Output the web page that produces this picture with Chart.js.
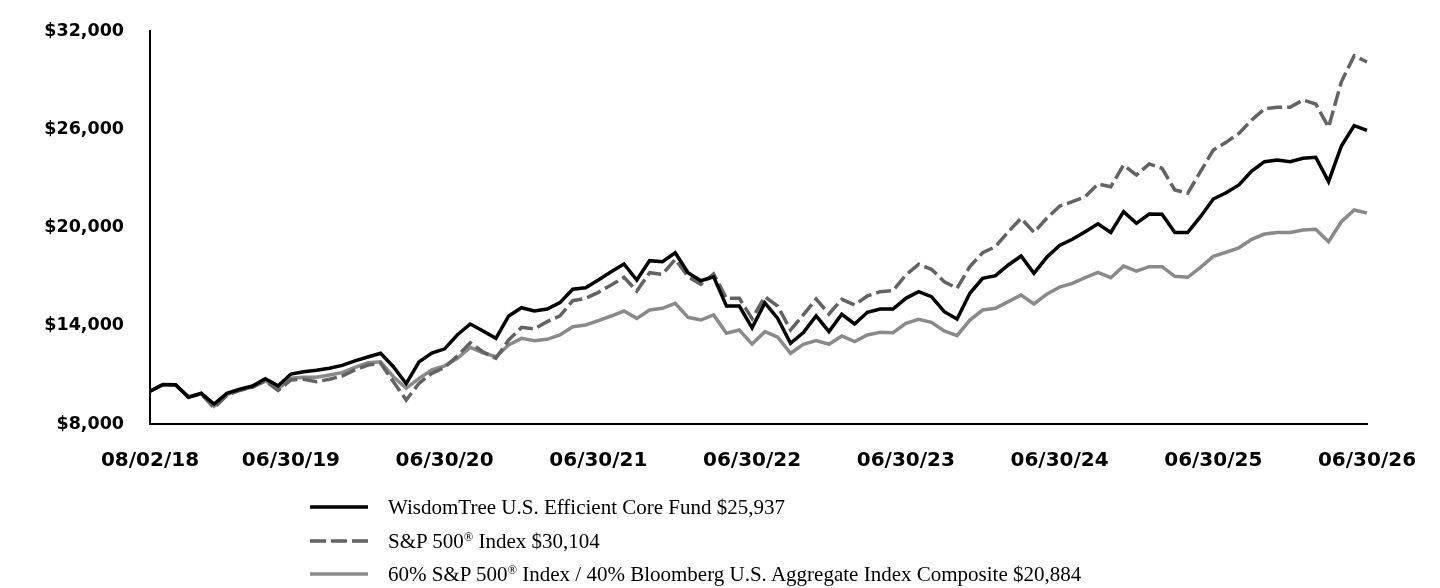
<!DOCTYPE html>
<html>
<head>
<meta charset="utf-8">
<script src="https://cdn.jsdelivr.net/npm/chart.js@4/dist/chart.umd.min.js"></script>
<style>
  html, body { margin: 0; padding: 0; background: #fff; }
  #wrap { position: relative; width: 1440px; height: 588px; overflow: hidden; }
  #c { position: absolute; left: 0; top: 0; }
  .row { position: absolute; left: 310px; height: 30px; display: flex; align-items: center; white-space: nowrap;
         font-family: "Liberation Serif", "Times New Roman", serif; font-size: 21px; color: #000; }
  .row svg { width: 58px; height: 6px; margin-right: 20px; flex: none; }
  .row sup { font-size: 0.6em; position: relative; top: 0.1em; vertical-align: super; line-height: 0; }
</style>
</head>
<body>
<div id="wrap">
  <canvas id="c" width="1440" height="588"></canvas>
  <div class="row" style="top:492px">
    <svg viewBox="0 0 58 6"><line x1="0" y1="3" x2="58" y2="3" stroke="#000" stroke-width="3.5"/></svg>
    <span>WisdomTree U.S. Efficient Core Fund $25,937</span>
  </div>
  <div class="row" style="top:526px">
    <svg viewBox="0 0 58 6"><line x1="0" y1="3" x2="58" y2="3" stroke="#636363" stroke-width="3.5" stroke-dasharray="16 5"/></svg>
    <span>S&amp;P 500<sup>®</sup> Index $30,104</span>
  </div>
  <div class="row" style="top:559px">
    <svg viewBox="0 0 58 6"><line x1="0" y1="3" x2="58" y2="3" stroke="#8a8a8a" stroke-width="3.5"/></svg>
    <span>60% S&amp;P 500<sup>®</sup> Index / 40% Bloomberg U.S. Aggregate Index Composite $20,884</span>
  </div>
</div>
<script>
// Tick labels shown on the x axis
const tickLabels = ['08/02/18','06/30/19','06/30/20','06/30/21','06/30/22','06/30/23','06/30/24','06/30/25','06/30/26'];

// Monthly categories: inception 08/02/18, then month-ends through 06/30/26
const categories = ['08/02/18'];
for (let i = 1; i < 96; i++) {
  const d = new Date(Date.UTC(2018, 7 + i, 0));
  const mm = String(d.getUTCMonth() + 1).padStart(2, '0');
  const dd = String(d.getUTCDate()).padStart(2, '0');
  const yy = String(d.getUTCFullYear()).slice(2);
  categories.push(mm + '/' + dd + '/' + yy);
}

// Growth of $10,000
const fundValues = [
  10000,10415,10400,9630,9875,9220,9875,10120,10320,10770,10330,11050,
  11195,11280,11400,11580,11860,12090,12315,11500,10460,11790,12335,12590,
  13450,14107,13680,13230,14600,15100,14900,15020,15410,16230,16320,16790,
  17300,17770,16790,17975,17910,18460,17240,16750,16990,15200,15200,13870,
  15400,14450,12930,13580,14600,13640,14700,14107,14820,15020,15020,15675,
  16080,15775,14860,14410,15980,16900,17060,17710,18260,17200,18180,18900,
  19280,19745,20230,19700,20970,20255,20825,20805,19690,19690,20660,21740,
  22125,22600,23450,24020,24120,24020,24225,24290,22800,24980,26220,25937
];
const sp500Values = [
  10000,10400,10380,9650,9830,8980,9750,10050,10250,10630,10050,10690,
  10730,10585,10730,10930,11300,11600,11705,10585,9465,10485,11095,11450,
  12160,12965,12400,12010,13130,13900,13800,14250,14600,15530,15675,16040,
  16490,16960,16120,17240,17140,18060,17000,16530,17160,15675,15675,14430,
  15770,15200,13740,14660,15630,14720,15615,15270,15820,16080,16140,17100,
  17750,17450,16690,16290,17610,18460,18830,19745,20560,19700,20560,21300,
  21580,21880,22660,22490,23820,23205,23880,23615,22290,22090,23410,24730,
  25200,25750,26565,27240,27340,27340,27785,27540,26120,28900,30490,30104
];
const blendValues = [
  10000,10390,10390,9680,9860,9080,9800,10080,10260,10640,10150,10790,
  10850,10850,10990,11135,11460,11745,11805,10890,10180,10790,11300,11550,
  12010,12680,12350,12110,12825,13230,13090,13170,13435,13940,14045,14310,
  14595,14900,14450,14960,15065,15370,14515,14350,14660,13540,13740,12880,
  13640,13300,12320,12870,13090,12870,13375,13030,13435,13600,13580,14150,
  14395,14210,13680,13395,14350,14960,15065,15470,15880,15330,15930,16360,
  16590,16935,17260,16935,17640,17330,17610,17610,17020,16960,17570,18240,
  18490,18760,19280,19600,19690,19690,19850,19890,19130,20355,21070,20884
];

const axisFont = { family: 'DejaVu Sans', weight: 'bold' };

new Chart(document.getElementById('c'), {
  type: 'line',
  data: {
    labels: categories,
    datasets: [
      { label: 'WisdomTree U.S. Efficient Core Fund', data: fundValues, borderColor: '#000000',
        borderWidth: 3.5, pointRadius: 0, tension: 0, fill: false },
      { label: 'S&P 500® Index', data: sp500Values, borderColor: '#636363', borderDash: [15, 5],
        borderWidth: 3.5, pointRadius: 0, tension: 0, fill: false },
      { label: '60% S&P 500® Index / 40% Bloomberg U.S. Aggregate Index Composite', data: blendValues,
        borderColor: '#8a8a8a', borderWidth: 3.5, pointRadius: 0, tension: 0, fill: false }
    ]
  },
  options: {
    responsive: false,
    animation: false,
    layout: { padding: { top: 31, right: 73, left: 0, bottom: 0 } },
    plugins: { legend: { display: false }, tooltip: { enabled: false } },
    scales: {
      x: {
        type: 'category',
        grid: { display: false, drawTicks: false },
        border: { display: true, color: '#000', width: 2 },
        ticks: {
          autoSkip: false, maxRotation: 0, minRotation: 0, padding: 25, color: '#000',
          font: Object.assign({ size: 20 }, axisFont),
          callback: function (v) { const l = this.getLabelForValue(v); return tickLabels.includes(l) ? l : ''; }
        },
        afterFit: (s) => { s.height = 164; s.paddingLeft = 0; s.paddingRight = 0; }
      },
      y: {
        min: 8000, max: 32000,
        grid: { display: false, drawTicks: false },
        border: { display: true, color: '#000', width: 2 },
        ticks: {
          stepSize: 6000, padding: 26, color: '#000',
          font: Object.assign({ size: 17.5 }, axisFont),
          callback: (v) => '$' + Number(v).toLocaleString('en-US')
        },
        afterFit: (s) => { s.width = 150; s.paddingTop = 0; s.paddingBottom = 0; }
      }
    }
  }
});
</script>
</body>
</html>
